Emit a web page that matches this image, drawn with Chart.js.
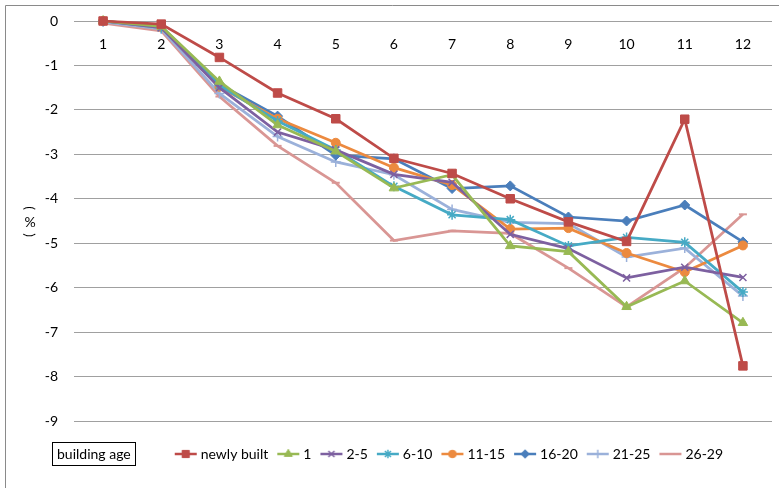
<!DOCTYPE html>
<html>
<head>
<meta charset="utf-8">
<script src="https://cdn.jsdelivr.net/npm/chart.js@4.4.1/dist/chart.umd.min.js"></script>
<style>
html,body{margin:0;padding:0;background:#fff;}
#wrap{width:779px;height:488px;}
</style>
</head>
<body>
<div id="wrap"><canvas id="c" width="779" height="488"></canvas></div>
<script>
// ---- data ----
const categories = ['1','2','3','4','5','6','7','8','9','10','11','12'];
const seriesNames = ['newly built','1','2-5','6-10','11-15','16-20','21-25','26-29'];
const newlyBuilt = [0, -0.07, -0.82, -1.62, -2.20, -3.09, -3.43, -4.00, -4.52, -4.96, -2.21, -7.76];
const age1      = [0, -0.12, -1.36, -2.34, -2.93, -3.76, -3.46, -5.06, -5.19, -6.43, -5.85, -6.79];
const age2to5   = [0, -0.15, -1.50, -2.50, -2.90, -3.45, -3.63, -4.80, -5.12, -5.78, -5.54, -5.77];
const age6to10  = [0, -0.15, -1.45, -2.25, -2.90, -3.72, -4.36, -4.47, -5.06, -4.87, -4.98, -6.10];
const age11to15 = [0, -0.13, -1.48, -2.20, -2.74, -3.30, -3.69, -4.68, -4.66, -5.22, -5.65, -5.05];
const age16to20 = [0, -0.12, -1.42, -2.14, -3.02, -3.10, -3.77, -3.71, -4.41, -4.50, -4.14, -4.97];
const age21to25 = [-0.02, -0.18, -1.63, -2.60, -3.17, -3.46, -4.24, -4.53, -4.56, -5.31, -5.11, -6.19];
const age26to29 = [-0.05, -0.22, -1.70, -2.81, -3.64, -4.94, -4.72, -4.78, -5.56, -6.43, -5.55, -4.35];
const yTicks = [0, -1, -2, -3, -4, -5, -6, -7, -8, -9];
const legendTitle = 'building age';
const yAxisTitle = ['(', '%', ')'];

// ---- styles ----
const colors = ['#be4b48','#98b954','#7d60a0','#46aac5','#ec8a3f','#4a7ebb','#9bb1da','#d99694'];
const pStyles = ['rect','triangle','crossRot','star','circle','rectRot','cross','line'];
const pRadius = [6, 5.5, 5, 5, 4.5, 5, 5, 4];
const pBorder = [1, 1, 1.5, 1.5, 1, 1, 1.5, 2];
const values = [newlyBuilt, age1, age2to5, age6to10, age11to15, age16to20, age21to25, age26to29];

Chart.defaults.font.family = 'Lato, "Liberation Sans", sans-serif';
Chart.defaults.font.size = 14;
Chart.defaults.color = '#000';

function legendSymbol(i){
  const cv = document.createElement('canvas');
  cv.width = 24; cv.height = 14;
  const c = cv.getContext('2d');
  c.strokeStyle = colors[i]; c.fillStyle = colors[i];
  c.lineWidth = 2.5;
  c.beginPath(); c.moveTo(1,7); c.lineTo(23,7); c.stroke();
  c.lineWidth = pBorder[i];
  if (Chart.helpers && Chart.helpers.drawPoint) {
    Chart.helpers.drawPoint(c, {pointStyle: pStyles[i], rotation: 0, radius: pRadius[i]*0.85, borderWidth: pBorder[i]}, 12, 7);
  }
  return cv;
}
function blankSymbol(){
  const cv = document.createElement('canvas'); cv.width = 1; cv.height = 1; return cv;
}

const datasets = seriesNames.map((n,i)=>({
  label: n,
  data: values[i],
  borderColor: colors[i],
  backgroundColor: colors[i],
  borderWidth: 2.75,
  tension: 0,
  pointStyle: pStyles[i],
  pointRadius: pRadius[i],
  pointHoverRadius: pRadius[i],
  pointBorderWidth: pBorder[i],
  pointBackgroundColor: colors[i],
  pointBorderColor: colors[i],
  clip: false
}));

const framePlugin = {
  id: 'frameAndExtras',
  afterDraw(chart){
    const ctx = chart.ctx;
    ctx.save();
    ctx.strokeStyle = '#8a8a8a'; ctx.lineWidth = 1;
    ctx.beginPath(); ctx.moveTo(5.5, chart.height); ctx.lineTo(5.5, 5.5); ctx.lineTo(chart.width, 5.5); ctx.stroke();
    // y-axis title (vertical writing)
    ctx.fillStyle = '#000';
    ctx.font = '14px Lato, "Liberation Sans", sans-serif';
    ctx.textAlign = 'center'; ctx.textBaseline = 'middle';
    const ys = [208, 222, 235];
    yAxisTitle.forEach((t,k)=>{
      ctx.save(); ctx.translate(30, ys[k]);
      if (k !== 1) ctx.rotate(Math.PI/2);
      ctx.fillText(t, 0, 0); ctx.restore();
    });
    // box around legend title item
    const lg = chart.legend;
    if (lg && lg.legendHitBoxes && lg.legendHitBoxes[0]) {
      const hb = lg.legendHitBoxes[0];
      ctx.font = '14px Lato, "Liberation Sans", sans-serif';
      const tw = ctx.measureText(legendTitle).width;
      const tx = hb.left + 16 + 7;
      const cy = hb.top + hb.height/2;
      ctx.strokeStyle = '#000'; ctx.lineWidth = 1;
      ctx.strokeRect(Math.round(tx - 5) + 0.5, Math.round(cy - 12) + 0.5, Math.round(tw + 9), 23);
    }
    ctx.restore();
  }
};

new Chart(document.getElementById('c'), {
  type: 'line',
  data: { labels: categories, datasets },
  plugins: [framePlugin],
  options: {
    responsive: false,
    animation: false,
    devicePixelRatio: 1,
    layout: { padding: { left: 22, top: 21, right: 4, bottom: 17 } },
    scales: {
      x: {
        type: 'category',
        offset: true,
        position: { y: 0 },
        grid: { display: false },
        border: { display: false },
        ticks: { padding: 7, maxRotation: 0, autoSkip: false },
        afterFit(s){ s.height = 0; s.paddingTop = 0; s.paddingBottom = 0; s.paddingLeft = 0; s.paddingRight = 0; }
      },
      y: {
        min: -9, max: 0,
        afterBuildTicks(s){ s.ticks = yTicks.map(v=>({value: v})); },
        grid: { color: '#a0a0a0', lineWidth: 1, drawTicks: false },
        border: { display: false },
        ticks: { padding: 16 },
        afterFit(s){ s.width = 52; s.paddingTop = 0; s.paddingBottom = 0; }
      }
    },
    plugins: {
      tooltip: { enabled: false },
      legend: {
        position: 'bottom',
        align: 'start',
        title: { display: true, text: '', font: { size: 10 }, padding: { top: 2, bottom: 0 } },
        labels: {
          usePointStyle: true,
          pointStyleWidth: 16,
          padding: 12,
          color: '#000',
          font: { size: 14 },
          generateLabels(chart){
            const base = Chart.defaults.plugins.legend.labels.generateLabels(chart);
            base.forEach((it)=>{ it.pointStyle = legendSymbol(it.datasetIndex); it.fontColor = '#000'; });
            const d1 = {text: legendTitle, pointStyle: blankSymbol(), fillStyle: 'rgba(0,0,0,0)', strokeStyle: 'rgba(0,0,0,0)', lineWidth: 0, hidden: false, fontColor: '#000', datasetIndex: -1};
            const d2 = {text: '', pointStyle: blankSymbol(), fillStyle: 'rgba(0,0,0,0)', strokeStyle: 'rgba(0,0,0,0)', lineWidth: 0, hidden: false, fontColor: '#000', datasetIndex: -2};
            return [d1, d2].concat(base);
          }
        }
      }
    }
  }
});
</script>
</body>
</html>
